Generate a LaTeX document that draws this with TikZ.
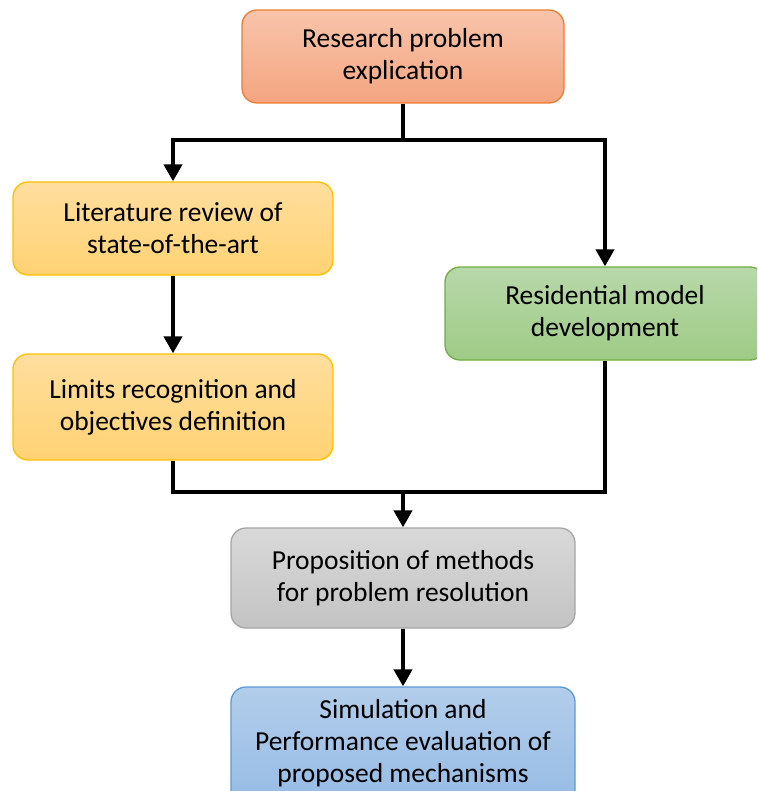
\documentclass[tikz,border=0pt]{standalone}
\usepackage{fontspec}
\setmainfont{Carlito}
\usetikzlibrary{arrows.meta,shapes.misc}
\definecolor{orB}{HTML}{ED7D31}\definecolor{orT}{HTML}{F8C4AB}\definecolor{orD}{HTML}{F4A580}
\definecolor{yeB}{HTML}{FFC000}\definecolor{yeT}{HTML}{FFDE9E}\definecolor{yeD}{HTML}{FFD273}
\definecolor{grB}{HTML}{70AD47}\definecolor{grT}{HTML}{B8D8AA}\definecolor{grD}{HTML}{9ECB85}
\definecolor{gyB}{HTML}{A5A5A5}\definecolor{gyT}{HTML}{D9D9D9}\definecolor{gyD}{HTML}{C3C3C3}
\definecolor{blB}{HTML}{5B9BD5}\definecolor{blT}{HTML}{B3CDEB}\definecolor{blD}{HTML}{95BBE5}
\tikzset{
  txt/.style={font=\fontsize{27.5}{32}\selectfont, text=black, align=center},
  boxbase/.style={rectangle, rounded corners=15pt, line width=1.3pt, inner sep=0pt, txt},
  orbox/.style={boxbase, draw=orB, top color=orT, bottom color=orD},
  yebox/.style={boxbase, draw=yeB, top color=yeT, bottom color=yeD},
  grbox/.style={boxbase, draw=grB, top color=grT, bottom color=grD},
  gybox/.style={boxbase, draw=gyB, top color=gyT, bottom color=gyD},
  blbox/.style={boxbase, draw=blB, top color=blT, bottom color=blD},
  conn/.style={line width=4pt, draw=black},
  arr/.style={conn, -{Triangle[length=17pt,width=18pt]}}
}
\begin{document}
\begin{tikzpicture}[x=1pt,y=-1pt]
\useasboundingbox (0,0) rectangle (757,791);
\clip (0,0) rectangle (757,791);
\node[orbox, minimum width=322pt, minimum height=93pt] (res) at (403,56.5) {Research problem\\explication};
\node[yebox, minimum width=320pt, minimum height=93pt] (lit) at (173,228.5) {Literature review of\\state-of-the-art};
\node[yebox, minimum width=320pt, minimum height=106pt] (lim) at (173,407) {Limits recognition and\\objectives definition};
\node[grbox, minimum width=320pt, minimum height=93pt] (rdm) at (605,313.5) {Residential model\\development};
\node[gybox, minimum width=344pt, minimum height=100pt] (pro) at (403,578) {Proposition of methods\\for problem resolution};
\node[blbox, minimum width=344pt, minimum height=120pt] (sim) at (403,747) {};
\node[txt, anchor=base] (simt) at (403,782) {Simulation and\\Performance evaluation of\\proposed mechanisms};
\coordinate (j1) at (403,140);
\coordinate (j1l) at (173,140);
\coordinate (j1r) at (605,140);
\coordinate (j2) at (403,492);
\coordinate (j2l) at (173,492);
\coordinate (j2r) at (605,492);
\draw[conn] (res.south) -- (j1);
\draw[arr] (j1) -- (j1l) -- (lit.north);
\draw[arr] (j1) -- (j1r) -- (rdm.north);
\draw[arr] (lit.south) -- (lim.north);
\draw[conn] (lim.south) -- (j2l) -- (j2r) -- (rdm.south);
\draw[arr] (j2) -- (pro.north);
\draw[arr] (pro.south) -- (sim.north);
\end{tikzpicture}
\end{document}
